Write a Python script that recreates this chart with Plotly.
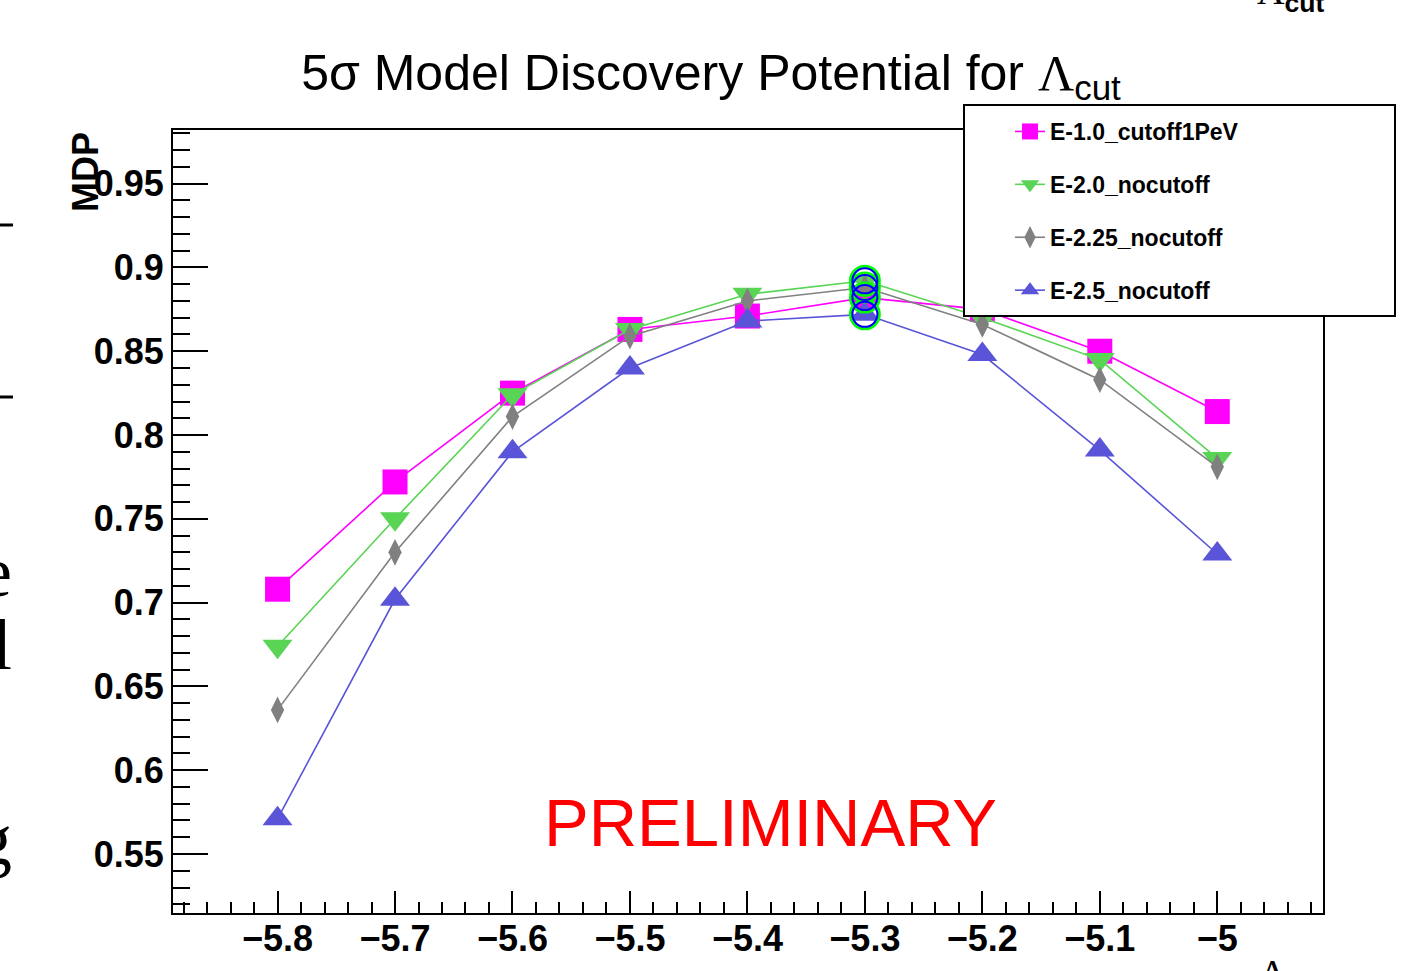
import plotly.graph_objects as go
import numpy as np

# ---- data ----
lambda_cut = [-5.8, -5.7, -5.6, -5.5, -5.4, -5.3, -5.2, -5.1, -5.0]
mdp_e10_cutoff1pev = [0.708, 0.772, 0.825, 0.863, 0.871, 0.882, 0.875, 0.850, 0.814]
mdp_e20_nocutoff = [0.674, 0.750, 0.824, 0.863, 0.884, 0.892, 0.870, 0.845, 0.786]
mdp_e225_nocutoff = [0.636, 0.730, 0.811, 0.859, 0.880, 0.888, 0.866, 0.833, 0.781]
mdp_e25_nocutoff = [0.571, 0.702, 0.790, 0.840, 0.868, 0.872, 0.848, 0.791, 0.729]

series_names = ["E-1.0_cutoff1PeV", "E-2.0_nocutoff", "E-2.25_nocutoff", "E-2.5_nocutoff"]
series_values = [mdp_e10_cutoff1pev, mdp_e20_nocutoff, mdp_e225_nocutoff, mdp_e25_nocutoff]
series_colors = ["#FF00FF", "#59D454", "#808080", "#5954D8"]
series_symbols = ["square", "triangle-down", "diamond-tall", "triangle-up"]
series_sizes = [25, 26, 19, 26]

# ---- figure geometry (pixels) ----
W, H = 1424, 971
L, R, T, B = 173, 1323, 130, 913


def px_x(p):
    return (p - L) / (R - L)


def px_y(p):
    return (B - p) / (B - T)


fig = go.Figure()

for name, vals, col, sym, sz in zip(series_names, series_values, series_colors,
                                     series_symbols, series_sizes):
    fig.add_trace(go.Scatter(
        x=lambda_cut, y=vals, mode="lines+markers", name=name,
        legendgroup=name,
        line=dict(color=col, width=1.6),
        marker=dict(symbol=sym, size=sz, color=col, line=dict(width=0)),
    ))

# maxima highlighted with open circles
max_x = [lambda_cut[int(np.argmax(v))] for v in series_values]
max_y = [max(v) for v in series_values]
fig.add_trace(go.Scatter(x=max_x, y=max_y, mode="markers", showlegend=False,
                         marker=dict(symbol="circle-open", size=29, color="#00FF00",
                                     line=dict(color="#00FF00", width=3))))
fig.add_trace(go.Scatter(x=max_x, y=max_y, mode="markers", showlegend=False,
                         marker=dict(symbol="circle-open", size=25, color="#0000FF",
                                     line=dict(color="#0000FF", width=2))))

tickfont = dict(family="Liberation Sans", size=36, color="black", weight="bold")

fig.update_xaxes(
    range=[-5.889, -4.910], tick0=-5.8, dtick=0.1,
    ticks="inside", ticklen=22, tickwidth=2, tickcolor="black",
    minor=dict(dtick=0.02, ticks="inside", ticklen=11, tickwidth=2, tickcolor="black"),
    showline=True, linewidth=2, linecolor="black", mirror=True,
    showgrid=False, zeroline=False, tickfont=tickfont, automargin=False,
    ticklabelstandoff=-7,
)
fig.update_yaxes(
    range=[0.5148, 0.982], tick0=0.55, dtick=0.05,
    ticks="inside", ticklen=35, tickwidth=2, tickcolor="black",
    minor=dict(dtick=0.01, ticks="inside", ticklen=17, tickwidth=2, tickcolor="black"),
    showline=True, linewidth=2, linecolor="black", mirror=True,
    showgrid=False, zeroline=False, tickfont=tickfont, automargin=False,
)

# legend box
fig.add_shape(type="rect", xref="paper", yref="paper",
              x0=px_x(964), x1=px_x(1395), y0=px_y(316), y1=px_y(105),
              fillcolor="white", line=dict(color="black", width=2), layer="above")

annotations = [
    dict(text="PRELIMINARY", x=-5.38, y=0.569, xref="x", yref="y",
         showarrow=False, font=dict(family="Liberation Sans", size=67, color="#FF0000")),
    dict(text="<b>MDP</b>", textangle=-90, xref="paper", yref="paper",
         x=px_x(85), y=1.0, xanchor="center", yanchor="top", showarrow=False,
         font=dict(family="Liberation Sans", size=36, color="black")),
    # partially visible axis titles at the canvas edges
    dict(text="<span style='font-family:Liberation Serif'>Λ</span><b><sub>cut</sub></b>",
         xref="paper", yref="paper", x=px_x(1255), y=px_y(20),
         xanchor="left", yanchor="bottom", showarrow=False,
         font=dict(family="Liberation Sans", size=38, color="black")),
    dict(text="<span style='font-family:Liberation Serif'>Λ</span><b><sub>cut</sub></b>",
         xref="paper", yref="paper", x=px_x(1257), y=px_y(950),
         xanchor="left", yanchor="top", showarrow=False,
         font=dict(family="Liberation Sans", size=38, color="black")),
]
for ch, yc in [("e", 572), ("l", 645), ("g", 840)]:
    annotations.append(dict(text=ch, xref="paper", yref="paper", x=px_x(14), y=px_y(yc),
                            xanchor="right", yanchor="middle", showarrow=False,
                            font=dict(family="Liberation Serif", size=72, color="black")))
for yl in [225, 397]:
    fig.add_shape(type="line", xref="paper", yref="paper",
                  x0=px_x(-5), x1=px_x(13), y0=px_y(yl), y1=px_y(yl),
                  line=dict(color="black", width=3))

fig.update_layout(
    width=W, height=H,
    margin=dict(l=L, r=W - R, t=T, b=H - B, autoexpand=False),
    paper_bgcolor="white", plot_bgcolor="white",
    title=dict(
        text="5σ Model Discovery Potential for <span style='font-family:Liberation Serif'>Λ</span><sub>cut</sub>",
        x=711 / W, xref="container", xanchor="center",
        y=1 - 72 / H, yref="container", yanchor="middle",
        font=dict(family="Liberation Sans", size=50, color="black"),
    ),
    legend=dict(
        x=px_x(1010), y=px_y(110), xanchor="left", yanchor="top",
        bgcolor="rgba(0,0,0,0)", borderwidth=0, tracegroupgap=20,
        font=dict(family="Liberation Sans", size=23, color="black", weight="bold"),
    ),
    annotations=annotations,
    showlegend=True,
)

fig.write_html("out.html")
